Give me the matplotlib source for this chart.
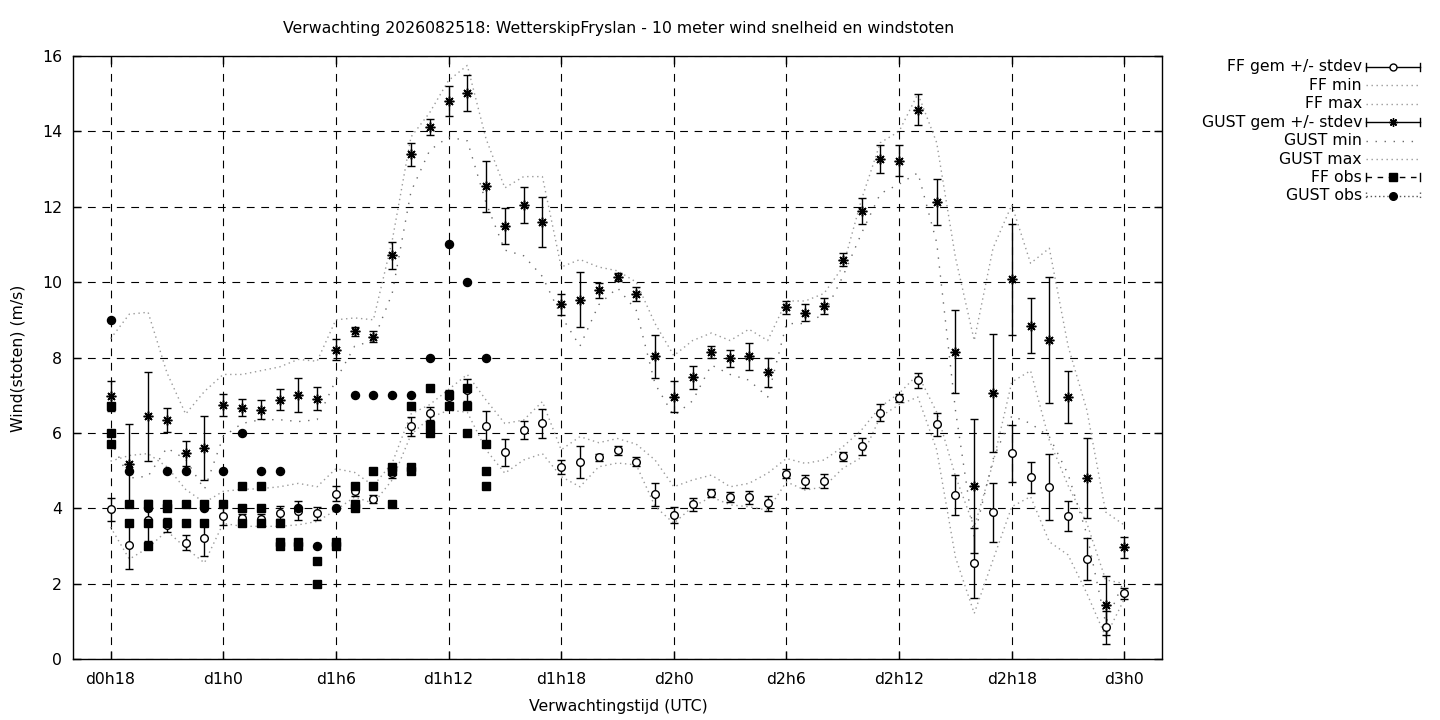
import matplotlib
matplotlib.use("Agg")
import matplotlib.pyplot as plt
from matplotlib.lines import Line2D

# forecast hours (d0h18 = 18 ... d3h0 = 72)
hours = list(range(18, 73))

ff_mean = [3.97, 3.02, 3.68, 3.55, 3.09, 3.21, 3.79, 3.73, 3.72, 3.88, 3.94, 3.87, 4.39,
           4.47, 4.24, 4.93, 6.18, 6.52, 6.95, 7.14, 6.17, 5.48, 6.07, 6.25, 5.09, 5.22,
           5.35, 5.54, 5.24, 4.37, 3.82, 4.10, 4.40, 4.29, 4.29, 4.13, 4.92, 4.71, 4.73,
           5.38, 5.64, 6.54, 6.92, 7.39, 6.23, 4.34, 2.54, 3.89, 5.46, 4.82, 4.56, 3.79,
           2.65, 0.84, 1.74]
ff_std = [0.30, 0.63, 0.55, 0.19, 0.20, 0.47, 0.23, 0.13, 0.13, 0.17, 0.26, 0.17, 0.20,
          0.15, 0.10, 0.12, 0.25, 0.17, 0.20, 0.30, 0.41, 0.35, 0.24, 0.38, 0.18, 0.42,
          0.10, 0.12, 0.13, 0.31, 0.22, 0.16, 0.10, 0.13, 0.18, 0.20, 0.12, 0.17, 0.18,
          0.12, 0.23, 0.23, 0.10, 0.19, 0.30, 0.53, 0.93, 0.78, 0.76, 0.42, 0.88, 0.39,
          0.55, 0.43, 0.15]
ff_min = [3.50, 2.65, 2.95, 3.40, 2.95, 2.55, 3.60, 3.52, 3.52, 3.52, 3.56, 3.65, 3.95,
          4.30, 4.13, 4.75, 5.95, 6.40, 6.60, 6.55, 5.55, 4.93, 5.28, 5.45, 4.84, 4.57,
          5.10, 5.20, 5.15, 4.05, 3.60, 4.04, 4.30, 4.09, 4.04, 3.95, 4.70, 4.48, 4.57,
          5.06, 5.35, 6.43, 6.75, 6.95, 5.55, 2.70, 1.21, 2.63, 4.04, 4.31, 3.11, 2.76,
          1.74, 0.59, 1.60]
ff_max = [5.25, 5.40, 5.45, 5.10, 4.50, 4.15, 4.45, 4.50, 4.52, 4.57, 4.66, 4.57, 5.05,
          4.95, 4.60, 5.20, 6.50, 6.75, 7.15, 7.55, 6.87, 6.25, 6.34, 6.83, 5.55, 5.90,
          5.74, 5.85, 5.70, 5.28, 4.57, 4.75, 4.88, 4.57, 4.66, 4.93, 5.32, 5.19, 5.28,
          5.63, 6.08, 6.69, 7.05, 7.55, 6.55, 4.85, 3.50, 5.20, 7.35, 7.65, 5.80, 4.60,
          3.60, 2.10, 2.00]

gust_mean = [6.98, 5.18, 6.44, 6.34, 5.46, 5.59, 6.75, 6.67, 6.62, 6.88, 7.01, 6.91, 8.21,
             8.69, 8.55, 10.71, 13.39, 14.11, 14.80, 15.01, 12.54, 11.49, 12.04, 11.59,
             9.41, 9.53, 9.78, 10.13, 9.68, 8.03, 6.96, 7.47, 8.15, 7.98, 8.03, 7.61, 9.33,
             9.19, 9.37, 10.60, 11.89, 13.27, 13.22, 14.58, 12.12, 8.15, 4.59, 7.05, 10.07,
             8.84, 8.46, 6.94, 4.80, 1.43, 2.96]
gust_std = [0.40, 1.06, 1.18, 0.31, 0.33, 0.85, 0.29, 0.22, 0.26, 0.28, 0.45, 0.30, 0.28,
            0.13, 0.15, 0.36, 0.31, 0.21, 0.40, 0.48, 0.67, 0.49, 0.48, 0.66, 0.28, 0.73,
            0.21, 0.10, 0.19, 0.57, 0.41, 0.30, 0.15, 0.23, 0.36, 0.38, 0.17, 0.22, 0.21,
            0.18, 0.35, 0.38, 0.41, 0.41, 0.61, 1.10, 1.78, 1.57, 1.47, 0.73, 1.68, 0.69,
            1.07, 0.78, 0.29]
gust_min = [5.80, 4.80, 4.85, 5.60, 5.30, 4.50, 5.90, 6.25, 6.35, 6.35, 6.30, 6.35, 7.40,
            8.30, 8.45, 9.70, 12.40, 13.50, 13.85, 13.75, 12.10, 10.85, 10.70, 10.15, 9.10,
            8.30, 9.40, 9.85, 9.25, 7.30, 6.45, 6.85, 7.80, 7.55, 7.40, 6.95, 8.90, 8.90,
            9.15, 10.15, 11.30, 12.35, 12.60, 12.90, 11.05, 6.60, 3.25, 5.30, 6.45, 6.25,
            5.90, 4.90, 3.30, 0.95, 2.10]
gust_max = [8.50, 9.15, 9.20, 7.60, 6.50, 7.10, 7.55, 7.55, 7.65, 7.75, 7.95, 7.90, 9.00,
            9.05, 9.00, 11.10, 13.85, 14.50, 15.35, 15.75, 13.80, 12.50, 12.80, 12.80, 10.40,
            10.60, 10.40, 10.30, 10.00, 8.90, 8.05, 8.45, 8.65, 8.45, 8.75, 8.45, 9.50, 9.50,
            9.70, 10.40, 12.20, 13.70, 14.00, 15.00, 13.70, 10.65, 8.45, 10.90, 12.05, 10.50,
            10.90, 8.30, 6.60, 3.90, 3.55]

# observations
ff_obs_hours = [18, 18, 18, 19, 19, 20, 20, 20, 21, 21, 21, 22, 22, 23, 23, 24,
                25, 25, 25, 26, 26, 26, 27, 27, 27, 28, 28, 29, 29, 30, 30,
                31, 31, 31, 32, 32, 33, 33, 33, 34, 34, 34, 35, 35, 35, 36, 36,
                37, 37, 37, 38, 38, 38]
ff_obs_values = [6.7, 6.0, 5.7, 4.1, 3.6, 4.1, 3.6, 3.0, 4.1, 4.0, 3.6, 4.1, 3.6, 4.1, 3.6, 4.1,
                 4.6, 4.0, 3.6, 4.6, 4.0, 3.6, 3.6, 3.1, 3.0, 3.1, 3.0, 2.6, 2.0, 3.1, 3.0,
                 4.6, 4.1, 4.0, 5.0, 4.6, 5.1, 5.0, 4.1, 6.7, 5.1, 5.0, 7.2, 6.2, 6.0, 7.0, 6.7,
                 7.2, 6.7, 6.0, 5.7, 5.0, 4.6]
gust_obs_hours = list(range(18, 39))
gust_obs_values = [9, 5, 4, 5, 5, 4, 5, 6, 5, 5, 4, 3, 4, 7, 7, 7, 7, 8, 11, 10, 8]

tick_hours = [18, 24, 30, 36, 42, 48, 54, 60, 66, 72]
tick_labels = ["d0h18", "d1h0", "d1h6", "d1h12", "d1h18",
               "d2h0", "d2h6", "d2h12", "d2h18", "d3h0"]

plt.rcParams["font.family"] = ["DejaVu Sans"]
plt.rcParams["font.size"] = 11.3

W, H = 1440, 720
fig = plt.figure(figsize=(W / 100, H / 100), dpi=100)
ax = fig.add_axes((73 / W, 1 - 659 / H, (1162 - 73) / W, (659 - 56) / H))

light_dot = dict(color="#9a9a9a", lw=1.0, ls=(0, (1, 2.6)))
gust_min_dot = dict(color="#6a6a6a", lw=1.0, ls=(0, (1, 5.5)))

ax.errorbar(hours, ff_mean, yerr=ff_std, fmt="o", ms=5.5, mfc="white", mec="black",
            mew=1.0, ecolor="black", elinewidth=1.0, capsize=3, capthick=1.0, zorder=3)
ax.plot(hours, ff_min, zorder=2, **light_dot)
ax.plot(hours, ff_max, zorder=2, **light_dot)
ax.errorbar(hours, gust_mean, yerr=gust_std, fmt="none", ecolor="black",
            elinewidth=1.0, capsize=3, capthick=1.0, zorder=3)
ax.plot(hours, gust_mean, ls="none", marker=(8, 2, 0), ms=7, mew=1.1,
        color="black", zorder=4)
ax.plot(hours, gust_min, zorder=2, **gust_min_dot)
ax.plot(hours, gust_max, zorder=2, **light_dot)
ax.plot(ff_obs_hours, ff_obs_values, ls="none", marker="s", ms=6.2, color="black", zorder=5)
ax.plot(gust_obs_hours, gust_obs_values, ls="none", marker="o", ms=5.8, color="black", zorder=5)

ax.set_xlim(16, 74)
ax.set_ylim(0, 16)
ax.set_xticks(tick_hours)
ax.set_xticklabels(tick_labels)
ax.set_yticks(range(0, 17, 2))
ax.tick_params(direction="in", length=6, width=1, top=True, right=True)
ax.tick_params(axis="x", pad=9)
ax.tick_params(axis="y", pad=8)
ax.grid(True, color="black", lw=0.8, ls=(0, (7, 6)), zorder=1)
ax.set_axisbelow(True)
for sp in ax.spines.values():
    sp.set_linewidth(1.0)

fig.text(619 / W, 1 - 29 / H, "Verwachting 2026082518: WetterskipFryslan - 10 meter wind snelheid en windstoten",
         ha="center", va="center")
fig.text(618 / W, 1 - 707 / H, "Verwachtingstijd (UTC)", ha="center", va="center")
fig.text(18 / W, 1 - 358 / H, "Wind(stoten) (m/s)", ha="center", va="center", rotation=90)

# legend drawn in gnuplot style: label right-aligned, sample on the right
legend_labels = ["FF gem +/- stdev", "FF min", "FF max", "GUST gem +/- stdev",
                 "GUST min", "GUST max", "FF obs", "GUST obs"]
x0, x1 = 1366, 1420
tf = fig.transFigure


def fline(xs, ys, **kw):
    fig.add_artist(Line2D([x / W for x in xs], [1 - y / H for y in ys], transform=tf, **kw))


for i, label in enumerate(legend_labels):
    y = 67 + 18.4 * i
    fig.text(1362 / W, 1 - y / H, label, ha="right", va="center")
    xm = (x0 + x1) / 2
    if label in ("FF gem +/- stdev", "GUST gem +/- stdev"):
        fline([x0, x1], [y, y], color="black", lw=1.0)
        fline([x0, x0], [y - 4, y + 4], color="black", lw=1.0)
        fline([x1, x1], [y - 4, y + 4], color="black", lw=1.0)
        if label.startswith("FF"):
            fline([xm], [y], ls="none", marker="o", ms=5.0, mfc="white", mec="black", mew=1.0)
        else:
            fline([xm], [y], ls="none", marker=(8, 2, 0), ms=6, mew=1.0, color="black")
    elif label == "GUST min":
        fline([x0, x1], [y, y], **gust_min_dot)
    elif label in ("FF min", "FF max", "GUST max"):
        fline([x0, x1], [y, y], **light_dot)
    elif label == "FF obs":
        fline([x0, x1], [y, y], color="black", lw=1.0, ls=(0, (4, 4)))
        fline([x0, x0], [y - 4, y + 4], color="black", lw=1.0)
        fline([x1, x1], [y - 4, y + 4], color="black", lw=1.0)
        fline([xm], [y], ls="none", marker="s", ms=6, color="black")
    else:
        fline([x0, x1], [y, y], color="#555555", lw=1.0, ls=(0, (1, 2)))
        fline([x0, x0], [y - 4, y + 4], color="#555555", lw=1.0, ls=(0, (1, 2)))
        fline([x1, x1], [y - 4, y + 4], color="#555555", lw=1.0, ls=(0, (1, 2)))
        fline([xm], [y], ls="none", marker="o", ms=5.5, color="black")

fig.savefig("out.png", dpi=100)
